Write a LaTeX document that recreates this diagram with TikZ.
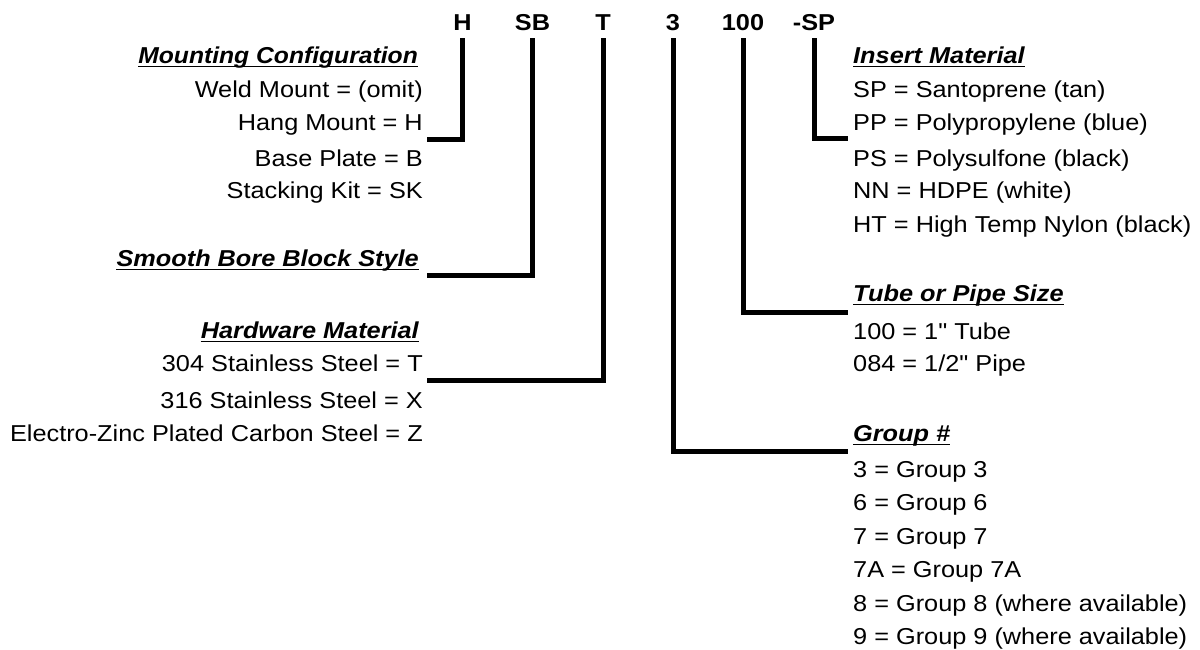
\documentclass[tikz,border=0pt]{standalone}
\usepackage{fontspec}
\setmainfont{Liberation Sans}[FakeStretch=1.1, Ligatures=TeXOff]
\begin{document}
\begin{tikzpicture}[x=1pt,y=-1pt,
  txt/.style={font=\fontsize{23}{27}\selectfont, inner sep=0pt},
  lft/.style={txt, anchor=base east},
  rgt/.style={txt, anchor=base west},
  hdr/.style={font=\fontsize{23}{27}\selectfont\bfseries\itshape, inner sep=0pt},
  code/.style={font=\fontsize{23}{27}\selectfont\bfseries, inner sep=0pt, anchor=base},
  conn/.style={line width=5pt},
  uline/.style={line width=1.8pt}]
\useasboundingbox (0,0) rectangle (1200,649);
% code letters
\node[code] (cH) at (462.5,30.5) {H};
\node[code] (cSB) at (532.5,30.5) {SB};
\node[code] (cT) at (603,30.5) {T};
\node[code] (c3) at (673,30.5) {3};
\node[code] (c100) at (743,30.5) {100};
\node[code] (cSP) at (814,30.5) {-SP};
\coordinate (top) at (0,38);
% left column
\node[hdr, anchor=base east, xscale=0.975] (hMC) at (418,63) {Mounting Configuration};
\node[lft] (m1) at (423,97) {Weld Mount = (omit)};
\node[lft] (m2) at (423,130) {Hang Mount = H};
\node[lft] (m3) at (423,166) {Base Plate = B};
\node[lft] (m4) at (423,198.5) {Stacking Kit = SK};
\node[hdr, anchor=base east] (hSB) at (419,266) {Smooth Bore Block Style};
\node[hdr, anchor=base east] (hHW) at (419,338) {Hardware Material};
\node[lft] (w1) at (423,371) {304 Stainless Steel = T};
\node[lft] (w2) at (423,408) {316 Stainless Steel = X};
\node[lft] (w3) at (423,441) {Electro-Zinc Plated Carbon Steel = Z};
% right column
\node[hdr, anchor=base west] (hIM) at (853,63) {Insert Material};
\node[rgt] (i1) at (853,97) {SP = Santoprene (tan)};
\node[rgt] (i2) at (853,130) {PP = Polypropylene (blue)};
\node[rgt] (i3) at (853,166) {PS = Polysulfone (black)};
\node[rgt] (i4) at (853,198.5) {NN = HDPE (white)};
\node[rgt] (i5) at (853,232) {HT = High Temp Nylon (black)};
\node[hdr, anchor=base west] (hTP) at (853,301) {Tube or Pipe Size};
\node[rgt] (t1) at (853,339) {100 = 1" Tube};
\node[rgt] (t2) at (853,371.5) {084 = 1/2" Pipe};
\node[hdr, anchor=base west] (hGR) at (853,441) {Group \#};
\node[rgt] (g1) at (853,477) {3 = Group 3};
\node[rgt] (g2) at (853,510.5) {6 = Group 6};
\node[rgt] (g3) at (853,544) {7 = Group 7};
\node[rgt] (g4) at (853,577.5) {7A = Group 7A};
\node[rgt] (g5) at (853,611) {8 = Group 8 (where available)};
\node[rgt] (g6) at (853,644.5) {9 = Group 9 (where available)};
% underlines
\foreach \n in {hMC,hSB,hHW,hIM,hTP,hGR}
  \draw[uline] ([yshift=-3.5pt]\n.base west) -- ([yshift=-3.5pt]\n.base east);
% connector ends
\coordinate (eH) at (427,139);
\coordinate (eSB) at (427,275);
\coordinate (eT) at (427,380);
\coordinate (e3) at (848,451);
\coordinate (e100) at (848,312);
\coordinate (eSP) at (848,138);
% connectors
\draw[conn] (cH |- top) |- (eH);
\draw[conn] (cSB |- top) |- (eSB);
\draw[conn] (cT |- top) |- (eT);
\draw[conn] (c3 |- top) |- (e3);
\draw[conn] (c100 |- top) |- (e100);
\draw[conn] (cSP |- top) |- (eSP);
\end{tikzpicture}
\end{document}
